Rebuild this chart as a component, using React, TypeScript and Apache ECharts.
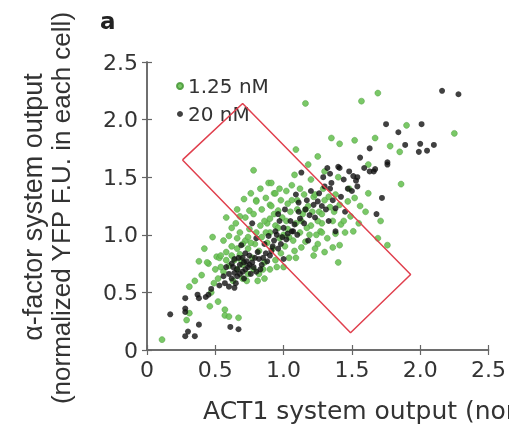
import React, { useEffect, useRef } from "react";
import * as echarts from "echarts";

const axisTicks = [0, 0.5, 1.0, 1.5, 2.0, 2.5];
const seriesNames = ["1.25 nM", "20 nM"];

const greenPoints: [number, number][] = [
  [0.11, 0.09], [0.29, 0.26], [0.31, 0.32], [0.31, 0.55], [0.38, 0.77], [0.45, 0.75], [0.46, 0.38],
  [0.57, 0.35], [0.57, 0.30], [0.67, 0.28], [0.60, 0.29], [0.51, 0.81], [0.49, 0.58], [0.53, 0.80],
  [0.44, 0.76], [0.54, 0.82], [0.40, 0.65], [0.47, 0.50], [0.35, 0.60], [0.52, 0.42], [0.42, 0.88],
  [0.48, 0.98], [0.58, 1.15], [0.66, 1.22],
  [0.60, 0.99], [0.66, 0.97], [0.75, 1.05], [0.71, 1.31], [0.80, 1.30], [0.75, 1.21], [0.78, 1.18],
  [0.83, 1.40], [0.89, 1.45], [0.93, 1.36], [0.78, 1.56], [0.96, 1.21], [0.88, 1.10], [1.02, 1.12],
  [0.80, 1.29], [1.06, 1.43],
  [0.58, 0.85], [0.62, 0.90], [0.64, 0.78], [0.68, 0.83], [0.70, 0.74], [0.72, 0.95], [0.74, 0.88],
  [0.77, 0.80], [0.79, 0.92], [0.82, 0.86], [0.84, 0.98], [0.86, 0.76], [0.88, 0.93], [0.90, 1.02],
  [0.92, 0.88], [0.94, 1.08], [0.97, 0.97], [0.99, 1.15], [1.01, 0.90], [1.03, 1.05], [1.05, 1.20],
  [1.07, 0.95], [1.09, 1.10], [1.10, 1.30], [1.12, 1.02], [1.14, 1.18], [1.16, 0.94], [1.18, 1.25],
  [1.20, 1.08], [1.22, 1.33], [1.24, 1.00], [1.26, 1.20], [1.28, 1.10], [1.30, 1.30], [1.32, 0.97],
  [1.34, 1.24], [1.36, 1.12], [1.38, 1.35],
  [0.66, 0.70], [0.70, 0.62], [0.74, 0.66], [0.63, 0.60], [0.56, 0.68], [0.52, 0.62], [0.60, 0.73],
  [0.78, 0.70], [0.82, 0.66], [0.86, 0.62], [0.90, 0.70], [0.94, 0.78], [0.98, 0.84], [1.00, 0.72],
  [1.04, 0.80], [1.08, 0.86],
  [0.65, 1.10], [0.68, 1.02], [0.72, 1.15], [0.62, 1.06], [0.56, 0.95], [0.84, 1.22], [0.86, 1.12],
  [0.90, 1.26], [0.98, 1.30], [1.02, 1.38], [1.12, 1.40], [1.08, 1.52],
  [1.09, 1.74], [1.25, 1.68], [1.18, 1.61], [0.91, 1.45], [0.94, 1.36], [1.23, 1.35], [1.47, 1.29],
  [1.56, 1.25], [1.16, 1.22], [0.91, 1.25], [1.49, 1.16], [1.28, 1.18], [1.42, 1.09], [1.51, 1.03],
  [1.27, 1.03],
  [1.35, 1.84], [1.41, 1.79], [1.52, 1.82], [1.16, 2.14], [1.57, 2.16], [1.69, 2.23], [1.90, 1.95],
  [2.25, 1.88], [1.67, 1.84], [1.78, 1.77], [1.85, 1.72], [1.62, 1.61], [1.86, 1.44],
  [1.28, 1.02], [1.38, 1.01], [1.41, 0.91], [1.36, 0.89], [1.30, 0.85], [1.22, 0.82], [1.40, 0.76],
  [1.76, 0.91], [1.69, 0.97], [1.13, 0.89], [1.09, 0.80], [1.25, 0.92], [1.71, 1.12], [1.45, 1.02],
  [1.55, 1.10], [1.60, 1.20], [1.48, 1.40], [1.40, 1.50], [1.30, 1.55], [1.20, 1.48], [1.62, 1.36],
  [1.52, 1.32],
  [0.62, 0.82], [0.66, 0.88], [0.70, 0.92], [0.74, 0.98], [0.76, 0.93], [0.80, 1.02], [0.83, 1.08],
  [0.87, 1.02], [0.90, 1.14], [0.93, 1.18], [0.96, 1.06], [1.00, 1.00], [1.04, 0.98], [1.06, 1.30],
  [1.10, 1.22], [1.13, 1.12], [1.17, 1.06], [1.21, 1.20], [1.25, 1.12], [1.29, 1.40], [1.33, 1.33],
  [1.37, 1.20], [1.41, 1.26], [1.44, 1.12], [0.69, 0.78], [0.73, 0.60], [0.81, 0.60], [0.85, 0.70],
  [0.95, 0.72], [0.58, 0.78], [0.54, 0.72], [0.50, 0.70], [0.97, 1.40], [1.03, 1.27], [1.15, 1.35],
  [0.87, 1.32], [0.76, 1.36], [0.68, 1.16], [1.19, 1.00], [1.23, 0.88],
];

const blackPoints: [number, number][] = [
  [0.17, 0.31], [0.28, 0.45], [0.28, 0.36], [0.28, 0.33], [0.37, 0.48], [0.38, 0.45], [0.45, 0.48],
  [0.38, 0.22], [0.30, 0.16], [0.28, 0.12], [0.35, 0.12], [0.57, 0.58], [0.64, 0.54], [0.61, 0.20],
  [0.67, 0.18], [0.43, 0.46],
  [0.58, 0.72], [0.62, 0.75], [0.64, 0.67], [0.60, 0.66], [0.66, 0.70], [0.68, 0.74], [0.70, 0.68],
  [0.72, 0.84], [0.75, 0.82], [0.69, 0.91], [0.78, 0.72], [0.82, 0.79], [0.87, 0.84], [0.80, 0.97],
  [0.89, 0.99], [0.98, 0.92], [1.06, 1.03], [1.00, 0.79], [0.77, 1.10], [0.73, 0.77], [0.76, 0.66],
  [0.71, 0.62], [0.84, 0.74], [0.66, 0.64], [0.74, 0.72], [0.80, 0.68], [0.70, 0.80], [0.92, 0.90],
  [0.95, 1.00], [0.86, 0.92], [0.56, 0.64], [0.63, 0.72], [0.67, 0.80], [0.72, 0.70], [0.77, 0.76],
  [0.81, 0.85], [0.85, 0.80], [0.90, 0.82], [0.93, 0.95], [0.62, 0.62],
  [0.94, 1.03], [1.00, 1.06], [1.07, 1.03], [0.96, 1.18], [1.05, 1.12], [1.11, 1.28], [1.20, 1.38],
  [1.25, 1.29], [1.30, 1.42], [1.34, 1.40], [1.34, 1.53], [1.40, 1.59], [1.13, 1.54], [1.38, 1.23],
  [1.33, 1.12], [1.23, 1.15], [1.38, 1.03], [1.47, 1.40], [1.53, 1.47], [1.54, 1.42], [1.56, 1.67],
  [1.01, 1.22], [1.11, 1.20], [1.18, 0.95], [1.15, 1.10], [1.02, 0.96], [1.10, 1.00], [1.28, 1.25],
  [1.17, 1.30], [1.42, 1.33], [1.36, 1.30], [1.45, 1.20],
  [2.16, 2.25], [2.28, 2.22], [1.75, 1.96], [1.84, 1.89], [2.01, 1.96], [1.89, 1.78], [2.00, 1.79],
  [1.99, 1.72], [2.05, 1.73], [2.10, 1.78], [1.63, 1.75], [1.66, 1.55], [1.76, 1.63], [1.41, 1.58],
  [1.59, 1.58], [1.67, 1.57], [1.63, 1.55], [1.51, 1.51], [1.54, 1.50], [1.72, 1.32], [1.68, 1.18],
  [1.76, 1.61],
  [0.64, 0.79], [0.68, 0.66], [0.71, 0.76], [0.75, 0.74], [0.79, 0.80], [0.83, 0.70], [0.88, 0.77],
  [0.91, 0.86], [0.96, 0.88], [0.99, 0.98], [1.03, 1.01], [1.08, 1.09], [1.12, 1.14], [1.16, 1.22],
  [1.19, 1.17], [1.22, 1.26], [1.26, 1.36], [1.31, 1.22], [1.35, 1.45], [1.29, 1.50], [1.44, 1.48],
  [1.48, 1.55], [1.50, 1.38], [0.65, 0.58], [0.53, 0.56], [0.60, 0.55], [0.47, 0.53], [0.97, 1.12],
  [1.09, 1.35], [1.32, 1.58],
];

const boxCorners: [number, number][] = [
  [0.26, 1.65], [0.70, 2.14], [1.93, 0.655], [1.49, 0.15], [0.26, 1.65],
];

const fmt = (v: number) => (v === 0 ? "0" : v.toFixed(1));

export default function App() {
  const ref = useRef<HTMLDivElement>(null);
  useEffect(() => {
    const chart = echarts.init(ref.current!, null, { renderer: "svg" });
    const axisColor = "#666";
    const labelStyle = { fontFamily: "DejaVu Sans", fontSize: 22, color: "#333" };
    const baseAxis = {
      type: "value",
      min: axisTicks[0],
      max: axisTicks[axisTicks.length - 1],
      interval: 0.5,
      splitLine: { show: false },
      axisLine: { show: true, lineStyle: { color: axisColor, width: 1.5 } },
      axisTick: { show: true, inside: true, length: 5, lineStyle: { color: axisColor, width: 1.2 } },
    };
    chart.setOption({
      animation: false,
      grid: { left: 147, right: 17, top: 62, bottom: 83 },
      legend: {
        orient: "vertical",
        left: 171,
        top: 71,
        itemWidth: 6,
        itemHeight: 6,
        itemGap: 8,
        icon: "circle",
        data: seriesNames,
        textStyle: { fontFamily: "DejaVu Sans", fontSize: 20, color: "#333" },
      },
      xAxis: [
        { ...baseAxis, position: "bottom", axisLabel: { ...labelStyle, margin: 8, formatter: fmt } },
        { ...baseAxis, position: "top", axisLabel: { show: false } },
      ],
      yAxis: [
        { ...baseAxis, position: "left", axisLabel: { ...labelStyle, margin: 9, formatter: fmt } },
        { ...baseAxis, position: "right", axisLabel: { show: false } },
      ],
      graphic: [
        {
          type: "text", x: 100, y: 21,
          style: { text: "a", fontFamily: "DejaVu Sans", fontWeight: "bold", fontSize: 23, fill: "#222", textAlign: "left", textVerticalAlign: "middle", align: "left", verticalAlign: "middle" },
        },
        {
          type: "text", x: 33, y: 207, rotation: Math.PI / 2,
          style: { text: "α-factor system output", fontFamily: "Liberation Sans", fontSize: 27, fill: "#333", textAlign: "center", textVerticalAlign: "middle", align: "center", verticalAlign: "middle" },
        },
        {
          type: "text", x: 61, y: 208, rotation: Math.PI / 2,
          style: { text: "(normalized YFP F.U. in each cell)", fontFamily: "Liberation Sans", fontSize: 26, fill: "#333", textAlign: "center", textVerticalAlign: "middle", align: "center", verticalAlign: "middle" },
        },
        {
          type: "text", x: 203, y: 410,
          style: { text: "ACT1 system output (normalized YFP F.U. in each cell)", fontFamily: "DejaVu Sans", fontSize: 25, fill: "#333", textAlign: "left", textVerticalAlign: "middle", align: "left", verticalAlign: "middle" },
        },
      ],
      series: [
        {
          name: seriesNames[0],
          type: "scatter",
          data: greenPoints,
          symbolSize: 6,
          itemStyle: { color: "#6cc257", opacity: 0.9, borderColor: "#4a9a3a", borderWidth: 0.5 },
          z: 2,
        },
        {
          name: seriesNames[1],
          type: "scatter",
          data: blackPoints,
          symbolSize: 6,
          itemStyle: { color: "#111" },
          z: 3,
        },
        {
          type: "line",
          data: boxCorners,
          symbol: "none",
          lineStyle: { color: "#e0404e", width: 1.5 },
          z: 4,
          silent: true,
        },
      ],
    });
    return () => chart.dispose();
  }, []);
  return <div ref={ref} style={{ position: "fixed", left: 0, top: 0, width: 509, height: 433 }} />;
}
